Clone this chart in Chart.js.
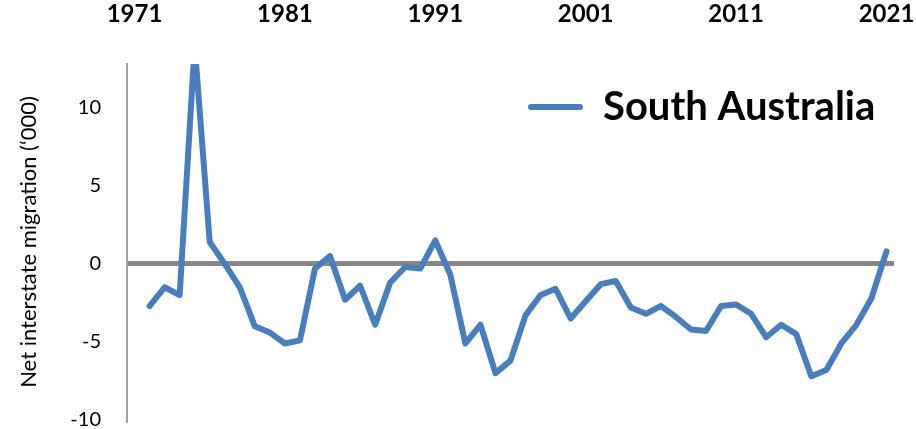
<!DOCTYPE html>
<html>
<head>
<meta charset="utf-8">
<script src="https://cdn.jsdelivr.net/npm/chart.js@4/dist/chart.umd.min.js"></script>
<style>
    html, body { margin: 0; padding: 0; background: #fff; }
    #wrap { width: 916px; height: 429px; }
</style>
</head>
<body>
<div id="wrap"><canvas id="chart"></canvas></div>
<script>
// financial years, first one has no value
const years = []
for (let y = 1971; y <= 2021; y++) years.push(String(y))

const seriesName = 'South Australia'
const netMigration = [
    null,
    -2.7, -1.5, -2.0, 14.0, 1.4, 0.0, -1.5, -4.0, -4.4, -5.1,
    -4.9, -0.3, 0.5, -2.3, -1.4, -3.9, -1.2, -0.2, -0.3, 1.5,
    -0.7, -5.1, -3.9, -7.0, -6.2, -3.3, -2.0, -1.6, -3.5, -2.4,
    -1.3, -1.1, -2.8, -3.2, -2.7, -3.4, -4.2, -4.3, -2.7, -2.6,
    -3.2, -4.7, -3.9, -4.5, -7.2, -6.8, -5.1, -3.9, -2.2, 0.8
]
const shownYears = ['1971', '1981', '1991', '2001', '2011', '2021']

const lineBlue = '#4a7ebb'
const fontName = 'Lato'

// move the legend inside the plot, up to the right
const legendSpot = {
    id: 'legendSpot',
    afterLayout(chart) {
        const lg = chart.legend
        const w = lg.right - lg.left
        const h = lg.bottom - lg.top
        lg.left = 518
        lg.right = 518 + w
        lg.top = 77
        lg.bottom = 77 + h
    }
}

// fixed axis sizes, no extra room for overhanging labels
function fixSize(s, w, h) {
    if (w !== null) s.width = w
    if (h !== null) s.height = h
    s.paddingLeft = 0
    s.paddingRight = 0
    s.paddingTop = 0
    s.paddingBottom = 0
}

const config = {
    type: 'line',
    data: {
        labels: years,
        datasets: [{
            label: seriesName,
            data: netMigration,
            borderColor: lineBlue,
            backgroundColor: lineBlue,
            borderWidth: 6,
            borderCapStyle: 'round',
            borderJoinStyle: 'round',
            pointRadius: 0,
            tension: 0
        }]
    },
    options: {
        responsive: true,
        maintainAspectRatio: false,
        animation: false,
        layout: {autoPadding: false, padding: {left: 0, right: 22, top: 0, bottom: 9}},
        scales: {
            x: {
                type: 'category',
                position: 'top',
                offset: true,
                grid: {display: false},
                border: {display: false},
                ticks: {
                    autoSkip: false,
                    maxRotation: 0,
                    minRotation: 0,
                    padding: 27,
                    color: '#000',
                    font: {family: fontName, size: 24, weight: 'bold'},
                    callback: function(v) {
                        const lab = this.getLabelForValue(v)
                        return shownYears.includes(lab) ? lab : ''
                    }
                },
                afterFit: s => fixSize(s, null, 64)
            },
            y: {
                min: -10,
                max: 12.8,
                grid: {
                    drawTicks: false,
                    color: c => (c.tick && c.tick.value === 0) ? '#878787' : 'rgba(0,0,0,0)',
                    lineWidth: 5
                },
                border: {display: true, color: '#a0a0a0', width: 2},
                ticks: {
                    stepSize: 5,
                    padding: 26,
                    color: '#000',
                    font: {family: fontName, size: 20},
                    callback: v => (v % 5 === 0) ? v : ''
                },
                title: {
                    display: true,
                    text: 'Net interstate migration (‘000)',
                    color: '#000',
                    font: {family: fontName, size: 22},
                    padding: {top: 16, bottom: 0}
                },
                afterFit: s => fixSize(s, 127, null)
            }
        },
        plugins: {
            legend: {
                position: 'chartArea',
                align: 'start',
                labels: {
                    boxWidth: 55,
                    boxHeight: 6,
                    padding: 10,
                    useBorderRadius: true,
                    borderRadius: 3,
                    color: '#000',
                    font: {family: fontName, size: 40, weight: 'bold'},
                    generateLabels: chart => chart.data.datasets.map((ds, i) => ({
                        text: ds.label,
                        fillStyle: ds.borderColor,
                        strokeStyle: ds.borderColor,
                        lineWidth: 0,
                        hidden: false,
                        datasetIndex: i,
                        fontColor: '#000',
                        borderRadius: 3
                    }))
                }
            },
            tooltip: {enabled: false}
        }
    },
    plugins: [legendSpot]
}

new Chart(document.getElementById('chart'), config)
</script>
</body>
</html>
